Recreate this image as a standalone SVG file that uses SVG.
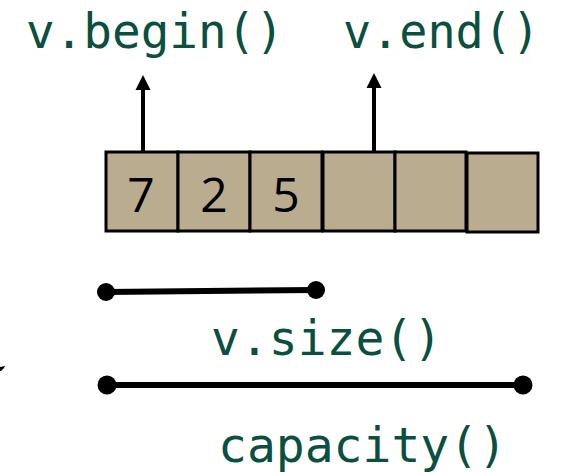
<svg xmlns="http://www.w3.org/2000/svg" width="570" height="472" viewBox="0 0 570 472">
<style>
.lbl{font-family:"DejaVu Sans Mono","Liberation Mono",monospace;font-size:48px;fill:#0b4f3f}
.cell{fill:#baac8e;stroke:#000;stroke-width:3}
.num{font-family:"Open Sans","DejaVu Sans",sans-serif;font-size:48px;fill:#000;text-anchor:middle}
.conn{stroke:#000;fill:none}
</style>
<g id="label-begin"><text class="lbl" x="26" y="48" textLength="258" lengthAdjust="spacingAndGlyphs">v.begin()</text></g>
<g id="label-end"><text class="lbl" x="343" y="48" textLength="197" lengthAdjust="spacingAndGlyphs">v.end()</text></g>
<g id="cell1"><rect class="cell" x="106" y="152" width="72" height="79"/><text class="num" x="141" y="212">7</text></g>
<g id="cell2"><rect class="cell" x="178" y="152" width="72" height="79"/><text class="num" x="214" y="212">2</text></g>
<g id="cell3"><rect class="cell" x="250" y="152" width="72" height="79"/><text class="num" x="286" y="212">5</text></g>
<g id="cell4"><rect class="cell" x="323" y="152" width="72" height="79"/></g>
<g id="cell5"><rect class="cell" x="395" y="152" width="71" height="79"/></g>
<g id="cell6"><rect class="cell" x="467" y="153" width="71" height="79"/></g>
<g id="label-size"><text class="lbl" x="211" y="355" textLength="231" lengthAdjust="spacingAndGlyphs">v.size()</text></g>
<g id="label-capacity"><text class="lbl" x="218" y="462" textLength="289" lengthAdjust="spacingAndGlyphs">capacity()</text></g>
<g id="connectors">
<line class="conn" x1="143" y1="151" x2="143" y2="89" stroke-width="4"/>
<path d="M143,75 L135.5,90 L150.5,90 Z" fill="#000"/>
<line class="conn" x1="374" y1="151" x2="374" y2="87" stroke-width="4"/>
<path d="M374,73 L366.5,88 L381.5,88 Z" fill="#000"/>
<line class="conn" x1="106" y1="292" x2="316" y2="290" stroke-width="6"/>
<circle cx="106" cy="292" r="9" fill="#000"/>
<circle cx="316" cy="290" r="9" fill="#000"/>
<line class="conn" x1="107" y1="385" x2="523" y2="385" stroke-width="6"/>
<circle cx="107" cy="385" r="9.5" fill="#000"/>
<circle cx="523" cy="385" r="9.5" fill="#000"/>
</g>
<path d="M0,367 L5,366 L4,368 L1,371 L0,371 Z" fill="#000"/>
</svg>
